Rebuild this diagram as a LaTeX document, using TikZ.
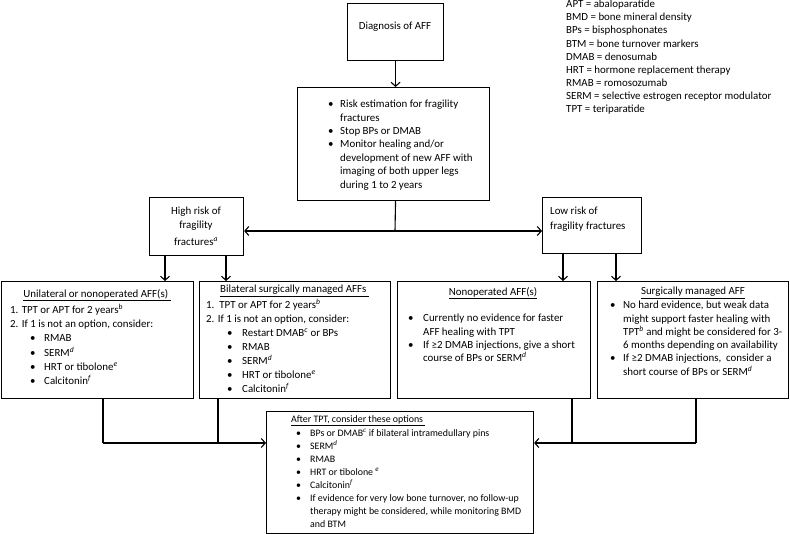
\documentclass[tikz,border=0pt]{standalone}
\usepackage{fontspec}
\setmainfont{Carlito}
\usetikzlibrary{arrows.meta}

\newcommand{\fn}[1]{\textsuperscript{\itshape #1}}
\newcommand{\itm}[1]{\makebox[#1][l]{\textbullet}}

\tikzset{
  box/.style={draw, line width=1.1pt, inner sep=0pt, anchor=north west},
  txt/.style={inner sep=0pt, anchor=north west, align=left, font=\fontsize{10.9}{13.4}\selectfont},
  ttl/.style={inner sep=0pt, font=\fontsize{10.9}{13.4}\selectfont},
  con/.style={line width=1.1pt},
  arr/.style={con, -{Straight Barb[length=4pt,width=9pt]}},
}

\begin{document}
\begin{tikzpicture}[x=1pt,y=-1pt]
\useasboundingbox (0,0) rectangle (790,534);

% boxes
\node[box, minimum width=96, minimum height=57] (diag) at (347,3) {};
\node[box, minimum width=192, minimum height=113] (risk) at (297,87) {};
\node[box, minimum width=94, minimum height=58] (high) at (149,197) {};
\node[box, minimum width=99, minimum height=56] (low) at (542,197) {};
\node[box, minimum width=192, minimum height=117] (unilat) at (1,281) {};
\node[box, minimum width=191, minimum height=117] (bilat) at (199,281) {};
\node[box, minimum width=193, minimum height=117] (nonop) at (397,281) {};
\node[box, minimum width=191, minimum height=117] (surg) at (597,281) {};
\node[box, minimum width=267, minimum height=122] (after) at (266,411) {};

% texts
\node[ttl] (diag-t) at (395,27) {Diagnosis of AFF};
\node[txt] (risk-t) at (328,100) {\itm{12pt}Risk estimation for fragility\\
  \hspace*{12pt}fractures\\
  \itm{12pt}Stop BPs or DMAB\\
  \itm{12pt}Monitor healing and/or\\
  \hspace*{12pt}development of new AFF with\\
  \hspace*{12pt}imaging of both upper legs\\
  \hspace*{12pt}during 1 to 2 years};
\node[ttl, align=center] (high-t) at (196,226) {High risk of\\[1pt] fragility\\[3pt] fractures\fn{a}};
\node[txt, font=\fontsize{10.9}{15}\selectfont] (low-t) at (550,207) {Low risk of\\ fragility fractures};

\node[ttl] (unilat-h) at (97,295) {\underline{Unilateral or nonoperated AFF(s)\ }};
\node[txt, font=\fontsize{10.9}{14.2}\selectfont] (unilat-t) at (10,304) {1. TPT or APT for 2 years\fn{b}\\
  2. If 1 is not an option, consider:\\
  \hspace*{20pt}\itm{14pt}RMAB\\
  \hspace*{20pt}\itm{14pt}SERM\fn{d}\\
  \hspace*{20pt}\itm{14pt}HRT or tibolone\fn{e}\\
  \hspace*{20pt}\itm{14pt}Calcitonin\fn{f}};

\node[ttl, anchor=west] (bilat-h) at (220,291) {\underline{Bilateral surgically managed AFFs\ }};
\node[txt, font=\fontsize{10.9}{14}\selectfont] (bilat-t) at (206,299) {1.\ \ TPT or APT for 2 years\fn{b}\\
  2. If 1 is not an option, consider:\\
  \hspace*{21pt}\itm{15pt}Restart DMAB\fn{c} or BPs\\
  \hspace*{21pt}\itm{15pt}RMAB\\
  \hspace*{21pt}\itm{15pt}SERM\fn{d}\\
  \hspace*{21pt}\itm{15pt}HRT or tibolone\fn{e}\\
  \hspace*{21pt}\itm{15pt}Calcitonin\fn{f}};

\node[ttl] (nonop-h) at (493,293) {\underline{Nonoperated AFF(s)}};
\node[txt, font=\fontsize{10.9}{13.3}\selectfont] (nonop-t) at (408,314) {\itm{15pt}Currently no evidence for faster\\
  \hspace*{15pt}AFF healing with TPT\\
  \itm{15pt}If ≥2 DMAB injections, give a short\\
  \hspace*{15pt}course of BPs or SERM\fn{d}};

\node[ttl] (surg-h) at (693,293) {\underline{Surgically managed AFF}};
\node[txt, font=\fontsize{10.9}{13.3}\selectfont] (surg-t) at (610,301) {\itm{13pt}No hard evidence, but weak data\\
  \hspace*{13pt}might support faster healing with\\
  \hspace*{13pt}TPT\fn{b} and might be considered for 3-\\
  \hspace*{13pt}6 months depending on availability\\
  \itm{13pt}If ≥2 DMAB injections,\ \ consider a\\
  \hspace*{13pt}short course of BPs or SERM\fn{d}};

\node[ttl, anchor=west, font=\fontsize{9.9}{13}\selectfont] (after-h) at (291,421) {\underline{After TPT, consider these options\ }};
\node[txt, font=\fontsize{9.9}{13}\selectfont] (after-t) at (296,429) {\itm{14pt}BPs or DMAB\fn{c} if bilateral intramedullary pins\\
  \itm{14pt}SERM\fn{d}\\
  \itm{14pt}RMAB\\
  \itm{14pt}HRT or tibolone \fn{e}\\
  \itm{14pt}Calcitonin\fn{f}\\
  \itm{14pt}If evidence for very low bone turnover, no follow-up\\
  \hspace*{14pt}therapy might be considered, while monitoring BMD\\
  \hspace*{14pt}and BTM};

\node[txt, font=\fontsize{10.9}{13.1}\selectfont] (legend) at (566,0) {APT = abaloparatide\\
  BMD = bone mineral density\\
  BPs = bisphosphonates\\
  BTM = bone turnover markers\\
  DMAB = denosumab\\
  HRT = hormone replacement therapy\\
  RMAB = romosozumab\\
  SERM = selective estrogen receptor modulator\\
  TPT = teriparatide};

% connectors
\coordinate (split) at (395,231);
\coordinate (join-a) at (103,443);
\coordinate (join-b) at (218,443);
\coordinate (join-c) at (572,443);
\coordinate (join-d) at (696,443);

\draw[arr] (diag.south) -- (diag.south |- risk.north);
\draw[con] (diag.south |- risk.south) -- (split);
\draw[arr] (split) -- (split -| high.east);
\draw[arr] (split) -- (split -| low.west);
\draw[arr] (high.south -| 165,0) -- (unilat.north -| 165,0);
\draw[arr] (high.south -| 226,0) -- (bilat.north -| 226,0);
\draw[arr] (low.south -| 563,0) -- (nonop.north -| 563,0);
\draw[arr] (low.south -| 616,0) -- (surg.north -| 616,0);
\draw[con] (unilat.south -| join-a) -- (join-a);
\draw[con] (bilat.south -| join-b) -- (join-b);
\draw[arr] (join-a) -- (join-a -| after.west);
\draw[con] (nonop.south -| join-c) -- (join-c);
\draw[con] (surg.south -| join-d) -- (join-d);
\draw[arr] (join-d) -- (join-d -| after.east);
\end{tikzpicture}
\end{document}
